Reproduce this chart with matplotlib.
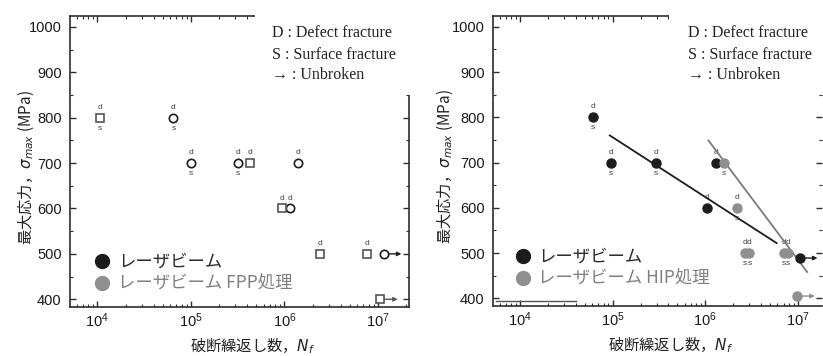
import matplotlib.pyplot as plt
from matplotlib.lines import Line2D
from matplotlib.patches import Rectangle

plt.rcParams['font.family'] = ['Liberation Sans', 'Noto Sans CJK JP']
plt.rcParams['mathtext.fontset'] = 'dejavusans'

# ---- left panel: laser beam (open circles) / laser beam + FPP (open squares)
lb_n = [6.5e4, 1.0e5, 3.2e5, 1.4e6, 1.15e6, 1.15e7]
lb_s = [800, 700, 700, 700, 600, 500]
lb_top = ['d', 'd', 'd', 'd', 'd', '']
lb_bot = ['s', 's', 's', '', '', '']
lb_unbroken = [False, False, False, False, False, True]

fpp_n = [1.07e4, 4.3e5, 9.5e5, 2.4e6, 7.7e6, 1.05e7]
fpp_s = [800, 700, 600, 500, 500, 400]
fpp_top = ['d', 'd', 'd', 'd', 'd', '']
fpp_bot = ['s', '', '', '', '', '']
fpp_unbroken = [False, False, False, False, False, True]

# ---- right panel: laser beam (black) / laser beam + HIP (gray)
lb2_n = [6.1e4, 9.6e4, 2.95e5, 1.3e6, 1.05e6, 1.05e7]
lb2_s = [800, 700, 700, 700, 600, 489]
lb2_top = ['d', 'd', 'd', 'd', 'd', '']
lb2_bot = ['s', 's', 's', '', '', '']
lb2_unbroken = [False, False, False, False, False, True]

hip_n = [1.6e6, 2.2e6, 2.7e6, 3.0e6, 7.0e6, 7.8e6, 9.8e6]
hip_s = [700, 600, 500, 500, 500, 500, 405]
hip_top = ['', 'd', 'd', 'd', 'd', 'd', '']
hip_bot = ['s', 's', 's', 's', 's', 's', '']
hip_unbroken = [False, False, False, False, False, False, True]

# fitted S-N lines (end points)
fit_lb_n = [9.3e4, 5.9e6]
fit_lb_s = [760, 522]
fit_hip_n = [1.08e6, 1.26e7]
fit_hip_s = [749, 458]

# stray scan line near the bottom of the right panel
stray_n = [5.5e3, 4.0e4]
stray_s = [394, 394]

legend_left = ['レーザビーム', 'レーザビーム FPP処理']
legend_right = ['レーザビーム', 'レーザビーム HIP処理']
notes = ['D : Defect fracture', 'S : Surface fracture', '→ : Unbroken']

BLACK = '#1c1c1c'
GRAY = '#8f8f8f'
SPINE = '#2e2e2e'

fig = plt.figure(figsize=(8.23, 3.56), dpi=100)
ax1 = fig.add_axes([70 / 823, 49 / 356, 339 / 823, 291 / 356])
ax2 = fig.add_axes([493 / 823, 50 / 356, 329 / 823, 290 / 356])


def mark(ax, n, s, top, bot, unbroken, arrow_color, **kw):
    ax.plot(n, s, ls='none', zorder=5, **kw)
    for x, y, t, b, u in zip(n, s, top, bot, unbroken):
        if t:
            ax.annotate(t, (x, y), xytext=(0, 5), textcoords='offset points',
                        ha='center', va='bottom', fontsize=6, color='#404040')
        if b:
            ax.annotate(b, (x, y), xytext=(0, -5), textcoords='offset points',
                        ha='center', va='top', fontsize=6, color='#404040')
        if u:
            ax.annotate('', xy=(x * 1.55, y), xytext=(x, y),
                        arrowprops=dict(arrowstyle='-|>', lw=1.0, color=arrow_color,
                                        shrinkA=3, shrinkB=0, mutation_scale=6))


mark(ax1, lb_n, lb_s, lb_top, lb_bot, lb_unbroken, BLACK,
     marker='o', ms=6, mfc='white', mec=BLACK, mew=1.2)
mark(ax1, fpp_n, fpp_s, fpp_top, fpp_bot, fpp_unbroken, '#555555',
     marker='s', ms=6, mfc='white', mec='#555555', mew=1.2)

ax2.plot(fit_lb_n, fit_lb_s, color=BLACK, lw=1.3, zorder=4)
ax2.plot(fit_hip_n, fit_hip_s, color='#7a7a7a', lw=1.3, zorder=4)
ax2.plot(stray_n, stray_s, color='#555555', lw=1.0, zorder=4)
mark(ax2, lb2_n, lb2_s, lb2_top, lb2_bot, lb2_unbroken, BLACK,
     marker='o', ms=6.5, color=BLACK)
mark(ax2, hip_n, hip_s, hip_top, hip_bot, hip_unbroken, GRAY,
     marker='o', ms=6.5, color=GRAY)

for ax, labels, leg_x, leg_y, ylab_x in [(ax1, legend_left, 0.07, 0.048, -0.10),
                                         (ax2, legend_right, 0.064, 0.062, -0.115)]:
    ax.set_xscale('log')
    ax.set_xlim(5.1e3, 2.15e7 if ax is ax1 else 1.82e7)
    ax.set_ylim(383, 1024)
    ax.set_yticks([400, 500, 600, 700, 800, 900, 1000])
    ax.set_yticks(range(400, 1001, 50), minor=True)
    ax.tick_params(which='both', direction='in', top=True, right=True,
                   color=SPINE, labelsize=10.5, labelcolor='#1a1a1a')
    ax.tick_params(which='major', length=4, width=1.0)
    ax.tick_params(which='minor', length=2, width=0.8)
    ax.tick_params(axis='y', pad=6)
    ax.tick_params(axis='x', pad=3, labelsize=10.5)
    for sp in ax.spines.values():
        sp.set_linewidth(1.2)
        sp.set_color(SPINE)

    ax.set_ylabel('最大応力，$\\sigma_{max}$ (MPa)', fontsize=11, color='#222222',
                  family=['Noto Sans CJK JP', 'DejaVu Sans'])
    ax.yaxis.set_label_coords(ylab_x, 0.48)
    ax.set_xlabel('破断繰返し数，$N_f$', fontsize=11, color='#222222',
                  family=['Noto Sans CJK JP', 'DejaVu Sans'])
    ax.xaxis.set_label_coords(0.54, -0.103)

    handles = [Line2D([], [], ls='none', marker='o', ms=10, color=BLACK),
               Line2D([], [], ls='none', marker='o', ms=10, color=GRAY)]
    leg = ax.legend(handles, labels, loc='lower left', bbox_to_anchor=(leg_x, leg_y),
                    frameon=False, borderpad=0, borderaxespad=0, handlelength=1.0,
                    handletextpad=0.4, labelspacing=0.25,
                    prop=dict(family=['Noto Sans CJK JP', 'DejaVu Sans'], size=12.5))
    leg.get_texts()[0].set_color('#2a2a2a')
    leg.get_texts()[1].set_color('#808080')

    # white block hiding the frame behind the notes (as in the scan)
    box_x = 0.546 if ax is ax1 else 0.535
    ax.add_patch(Rectangle((box_x, 0.729), 0.6, 0.4, transform=ax.transAxes,
                           facecolor='white', edgecolor='none', clip_on=False,
                           zorder=3))
    note_x = 0.596 if ax is ax1 else 0.593
    for txt, y in zip(notes, [0.942, 0.866, 0.797]):
        ax.text(note_x, y, txt, transform=ax.transAxes, ha='left', va='center',
                fontsize=11.5, color='#222222', zorder=6, clip_on=False,
                family=['Liberation Serif', 'DejaVu Serif'])

ax2.spines['right'].set_visible(False)

fig.savefig('out.png', dpi=100)
